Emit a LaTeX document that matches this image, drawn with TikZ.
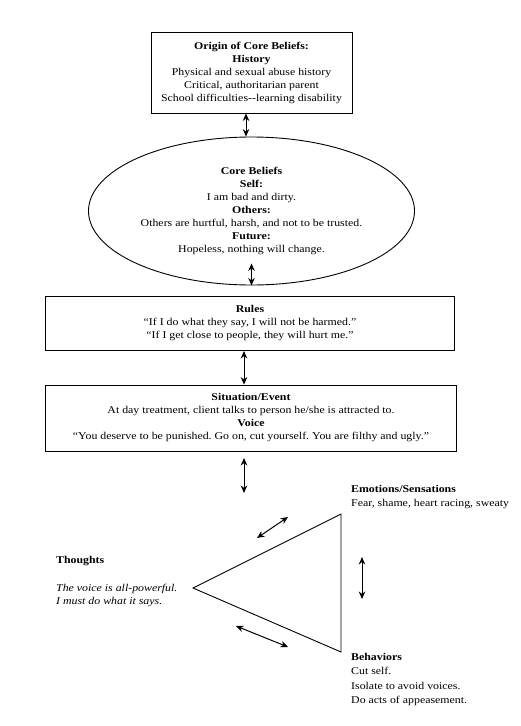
\documentclass[tikz,border=0pt]{standalone}
\usepackage{fontspec}
\setmainfont{Liberation Serif}[FakeStretch=1.14]
\usetikzlibrary{shapes.geometric,arrows.meta}
\tikzset{
  box/.style={draw,line width=0.9pt,rectangle,align=center,inner sep=0pt},
  oval/.style={draw,line width=0.9pt,ellipse,align=center,inner sep=0pt},
  dbl/.style={{Stealth[length=7.5pt,width=6.5pt]}-{Stealth[length=7.5pt,width=6.5pt]},line width=1pt},
  lbl/.style={align=left,inner sep=0pt,anchor=north west},
  txt/.style={font=\fontsize{10.4}{13}\selectfont}
}
\frenchspacing
\begin{document}
\begin{tikzpicture}[x=1pt,y=-1pt,txt]
\useasboundingbox (0,0) rectangle (520,726);
\node[box,minimum width=201pt,minimum height=81pt] (origin) at (251.5,72.5)
 {\textbf{Origin of Core Beliefs:}\\ \textbf{History}\\ Physical and sexual abuse history\\ Critical, authoritarian parent\\ School difficulties{-}{-}learning disability};
\node[oval,minimum width=326pt,minimum height=148pt] (core) at (251.5,211)
 {\textbf{Core Beliefs}\\ \textbf{Self:}\\ I am bad and dirty.\\ \textbf{Others:}\\ Others are hurtful, harsh, and not to be trusted.\\ \textbf{Future:}\\ Hopeless, nothing will change.};
\node[box,minimum width=409pt,minimum height=54pt] (rules) at (250,323)
 {\textbf{Rules}\\ “If I do what they say, I will not be harmed.”\\ “If I get close to people, they will hurt me.”};
\node[box,minimum width=411pt,minimum height=66pt] (sit) at (251,418)
 {\textbf{Situation/Event}\\ At day treatment, client talks to person he/she is attracted to.\\ \textbf{Voice}\\ “You deserve to be punished. Go on, cut yourself. You are filthy and ugly.”};
\draw[dbl] (origin.south -| 246,0) coordinate (a1) -- (a1 |- core.north);
\coordinate (c1) at ([yshift=22pt]core.south);
\draw[dbl] (c1) -- (core.south);
\draw[dbl] (244,351) coordinate (r1) -- (r1 |- sit.north);
\coordinate (s1) at (244,458);
\coordinate (s2) at (244,493);
\draw[dbl] (s1) -- (s2);
% triangle
\coordinate (tl) at (193,588);
\coordinate (tt) at (341,514);
\coordinate (tb) at (341,652);
\draw[line width=0.9pt,line join=miter] (tl) -- (tt) -- (tb) -- cycle;
\coordinate (e1) at (257,538); \coordinate (e2) at (288,517);
\draw[dbl] (e1) -- (e2);
\coordinate (v1) at (362,557); \coordinate (v2) at (362,599);
\draw[dbl] (v1) -- (v2);
\coordinate (b1) at (236,626); \coordinate (b2) at (288,647);
\draw[dbl] (b1) -- (b2);
\node[lbl,font=\fontsize{10.4}{14.5}\selectfont] (emo) at (351,485)
 {\textbf{Emotions/Sensations}\\ Fear, shame, heart racing, sweaty};
\node[lbl,font=\fontsize{10.4}{14.5}\selectfont] (beh) at (351,653)
 {\textbf{Behaviors}\\ Cut self.\\ Isolate to avoid voices.\\ Do acts of appeasement.};
\node[lbl] (tho) at (56,556) {\textbf{Thoughts}};
\node[lbl,font=\fontsize{10.4}{13}\selectfont\itshape] (thot) at (56,584)
 {The voice is all-powerful.\\ I must do what it says.};
\end{tikzpicture}
\end{document}
